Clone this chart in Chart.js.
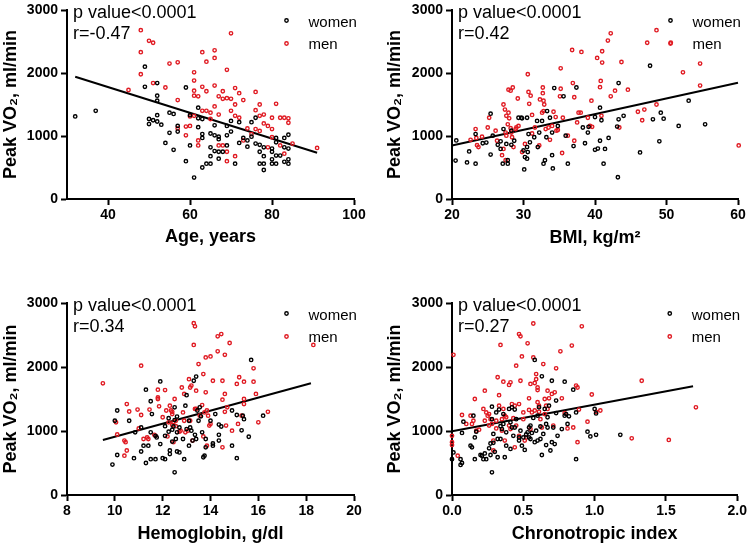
<!DOCTYPE html>
<html>
<head>
<meta charset="utf-8">
<script src="https://cdn.jsdelivr.net/npm/chart.js@4.4.0/dist/chart.umd.min.js"></script>
<style>
  html, body { margin: 0; padding: 0; background: #fff; }
  #wrap { position: relative; width: 750px; height: 545px; background: #fff; }
  canvas { position: absolute; }
</style>
</head>
<body>
<div id="wrap">
  <canvas id="c1" width="375" height="272" style="left:0;top:0"></canvas>
  <canvas id="c2" width="375" height="272" style="left:375px;top:0"></canvas>
  <canvas id="c3" width="375" height="273" style="left:0;top:272px"></canvas>
  <canvas id="c4" width="375" height="273" style="left:375px;top:272px"></canvas>
</div>
<script>
// ---------- DATA ----------
const seriesLabels = ["women", "men"];
const yTicks = [0, 1000, 2000, 3000];
const yTickLabels = ["0", "1000", "2000", "3000"];
const yTitle = "Peak VO\u2082, ml/min";

// Panel 1: Age
const ageTicks = [40, 60, 80, 100];
const ageTickLabels = ["40", "60", "80", "100"];
const ageText = ["p value<0.0001", "r=-0.47"];
const ageWomen = [[32,1310],[37,1400],[49,2100],[49,1780],[52,1840],[52,1640],[52,1560],[52,1330],[50,1270],[50,1190],[51,1250],[52,1230],[53,1180],[55,1370],[56,1350],[55,1050],[54,890],[56,780],[57,1160],[57,1070],[59,1770],[60,1330],[59,600],[60,850],[61,340],[62,1450],[62,1280],[62,1140],[63,1270],[63,1030],[63,970],[63,500],[64,560],[65,560],[65,1040],[65,820],[65,680],[66,1010],[66,1170],[66,760],[67,950],[67,990],[67,640],[67,750],[68,750],[69,850],[69,1010],[69,1160],[70,1070],[70,1240],[71,560],[72,1220],[72,890],[73,970],[74,830],[74,930],[75,990],[75,1220],[76,1290],[76,880],[77,750],[77,560],[77,860],[78,680],[78,560],[78,460],[78,820],[80,750],[80,630],[80,560],[80,800],[81,970],[81,900],[81,690],[81,560],[82,690],[83,820],[83,590],[83,970],[84,1020],[84,800],[84,630],[84,560]];
const ageMen = [[48,2680],[48,2330],[48,1980],[50,2510],[51,2480],[51,1840],[45,1730],[54,1770],[55,2150],[57,2170],[57,1570],[57,1120],[59,1150],[59,1010],[60,1160],[61,2010],[61,1880],[61,1720],[61,1640],[62,1630],[61,1320],[62,930],[62,850],[63,2330],[63,1780],[64,2180],[64,1710],[65,1370],[66,2360],[66,2240],[66,1800],[66,1470],[67,1630],[68,1710],[68,1590],[69,2050],[69,1600],[70,2630],[70,1590],[67,850],[68,850],[69,750],[69,600],[71,1760],[72,1680],[71,1500],[73,1570],[72,1290],[74,1120],[71,680],[76,1700],[76,1410],[77,1500],[77,1320],[78,1340],[78,1200],[79,1160],[77,1080],[80,1290],[81,1510],[80,1110],[82,1290],[83,1290],[84,1280],[84,1210],[82,850],[83,720],[85,880],[91,810],[73,930],[75,1030],[76,1110],[65,1270],[64,1400],[67,1340],[70,1400],[71,1320],[63,1400],[60,1310],[80,980],[79,820]];
const ageFit = [[32,1940],[91,735]];

// Panel 2: BMI
const bmiTicks = [20, 30, 40, 50, 60];
const bmiTickLabels = ["20", "30", "40", "50", "60"];
const bmiText = ["p value<0.0001", "r=0.42"];
const bmiWomen = [[20.6,930],[20.5,610],[22.1,580],[22.4,755],[23.3,560],[23.3,1030],[24.3,885],[24.8,895],[25.4,1355],[25.4,705],[25.7,1005],[26.4,860],[26.8,915],[26.8,795],[27.1,560],[27.2,1110],[27.6,875],[27.8,615],[27.8,560],[28.3,1085],[28.3,860],[28.7,925],[29.3,1290],[29.8,1280],[30.0,770],[30.2,665],[30.1,470],[30.5,825],[30.6,745],[30.5,640],[30.7,1030],[30.9,900],[31.5,980],[31.9,1240],[32.0,825],[32.2,1055],[32.6,1240],[32.8,560],[33.0,615],[33.2,980],[33.3,1395],[33.7,1290],[34.0,1055],[34.0,695],[34.1,485],[34.3,1760],[34.8,1160],[35.6,1630],[35.9,1005],[36.2,560],[37.4,1770],[37.0,840],[38.3,1135],[38.6,885],[39.0,1055],[39.1,1145],[40.0,1300],[40.0,780],[40.4,800],[40.7,1450],[40.7,925],[40.9,1250],[41.2,560],[41.4,795],[41.9,970],[43.3,1840],[43.2,345],[43.3,1265],[43.1,1150],[44.0,1320],[46.3,740],[48.1,1265],[47.7,2115],[49.0,915],[49.2,1370],[49.6,1275],[51.7,1160],[53.1,1560],[55.4,1185],[30.5,1290],[29.7,1290]];
const bmiMen = [[23.3,1110],[22.6,940],[23.4,970],[23.5,855],[23.7,825],[24.2,990],[25.0,1135],[25.2,1290],[26.1,1085],[26.3,925],[27.2,1500],[27.4,1420],[27.6,1320],[27.2,795],[27.0,695],[27.5,615],[27.5,1055],[27.6,1005],[27.8,1185],[27.9,1735],[28.2,1720],[28.5,1770],[27.9,1370],[28.0,1280],[28.2,1125],[28.3,1055],[28.4,980],[28.6,825],[28.9,1110],[29.2,1595],[29.0,1135],[29.3,1160],[30.6,1980],[30.7,1700],[31.0,1640],[30.8,1510],[31.2,1335],[31.6,1135],[31.2,1040],[30.2,875],[29.8,745],[32.3,1580],[32.6,1370],[32.7,1770],[32.7,1680],[32.8,1560],[32.9,1500],[32.8,1395],[33.1,1110],[32.2,850],[33.5,1135],[34.0,1160],[33.7,940],[34.2,1385],[34.5,1300],[34.6,1085],[34.8,1095],[35.1,1630],[35.2,2075],[35.2,1750],[35.4,730],[35.5,1290],[36.2,1005],[36.8,2365],[36.9,1840],[37.1,1615],[37.1,925],[37.5,1215],[37.7,1370],[38.1,2335],[38.0,1370],[39.5,1560],[39.0,1290],[39.3,1160],[39.6,1145],[40.3,2240],[40.8,1875],[40.7,1775],[40.9,1320],[41.0,2345],[41.0,2165],[41.8,2515],[42.2,2630],[42.2,1630],[42.8,1720],[43.4,1135],[43.7,2175],[44.6,1735],[46.0,1385],[46.6,1250],[46.9,1420],[47.3,2480],[48.6,1500],[48.6,2680],[50.6,2480],[52.3,2010],[54.7,2150],[54.7,1800],[60.1,850]];
const bmiFit = [[20,850],[60,1845]];

// Panel 3: Hemoglobin
const hbTicks = [8, 10, 12, 14, 16, 18, 20];
const hbTickLabels = ["8", "10", "12", "14", "16", "18", "20"];
const hbText = ["p value<0.0001", "r=0.34"];
const hbWomen = [[9.9,475],[10.1,625],[10.1,1320],[10.0,1160],[10.6,1160],[10.8,575],[10.85,980],[11.1,680],[11.1,1055],[11.3,500],[11.3,1645],[11.2,770],[11.4,770],[11.5,560],[11.5,1465],[11.55,1265],[11.5,980],[11.7,560],[11.7,925],[11.75,900],[11.9,1775],[11.9,795],[12.0,575],[12.1,925],[12.1,1075],[12.1,560],[12.25,990],[12.25,1200],[12.3,695],[12.3,640],[12.4,835],[12.4,1020],[12.45,1070],[12.5,1170],[12.5,355],[12.5,1370],[12.6,1225],[12.6,980],[12.55,875],[12.6,680],[12.7,665],[12.7,1055],[12.85,875],[12.9,560],[12.95,1395],[13.0,1560],[13.0,1030],[13.1,770],[13.1,1160],[13.15,1055],[13.2,1005],[13.25,850],[13.3,1785],[13.35,940],[13.4,1850],[13.4,875],[13.45,1320],[13.5,1160],[13.55,1370],[13.6,1230],[13.65,980],[13.7,590],[13.75,615],[13.8,875],[13.8,745],[14.0,1160],[14.1,805],[14.1,770],[14.2,1265],[14.35,850],[14.35,940],[14.35,1100],[14.45,1070],[14.9,770],[14.9,1320],[15.1,1250],[15.1,575],[15.3,1010],[15.35,1240],[15.4,1185],[15.6,910],[15.7,2110],[16.2,1240]];
const hbMen = [[9.5,1745],[10.05,1135],[10.1,945],[10.4,850],[10.4,615],[10.5,695],[10.5,1420],[10.45,825],[10.6,1305],[10.95,1335],[11.0,1040],[11.1,2020],[11.1,1250],[11.2,875],[11.35,900],[11.4,875],[11.45,1335],[11.65,940],[11.7,925],[11.8,1645],[11.8,1525],[11.8,1500],[11.85,1385],[12.0,1215],[12.1,1640],[12.15,1320],[12.2,915],[12.25,1135],[12.3,1395],[12.35,1320],[12.4,1265],[12.4,1095],[12.4,1300],[12.45,1135],[12.45,825],[12.5,1500],[12.55,1160],[12.55,1075],[12.7,990],[12.75,1005],[12.8,1680],[12.85,1290],[12.9,1160],[12.9,1580],[12.95,980],[13.05,1005],[13.1,1810],[13.15,1160],[13.15,1680],[13.2,1710],[13.25,850],[13.3,2345],[13.3,2685],[13.35,2635],[13.35,1345],[13.4,1630],[13.4,1345],[13.5,2045],[13.55,1240],[13.65,1405],[13.7,1890],[13.7,915],[13.75,1290],[13.8,2150],[13.8,1605],[13.85,770],[13.85,1320],[13.9,1240],[13.95,1085],[14.0,2165],[14.0,1110],[14.1,1785],[14.3,2480],[14.3,2245],[14.45,2515],[14.5,1785],[14.5,1490],[14.5,745],[14.6,2190],[14.6,1580],[14.6,1300],[14.65,1085],[14.7,1370],[14.8,2375],[14.9,1005],[15.1,1735],[15.2,1840],[15.15,1110],[15.3,1240],[15.4,1770],[15.4,1500],[15.4,1420],[15.8,1980],[15.8,1770],[15.9,1580],[16.0,1135],[16.4,1300],[18.3,2345]];
const hbFit = [[9.5,860],[18.2,1745]];

// Panel 4: Chronotropic index
const ciTicks = [0, 0.5, 1, 1.5, 2];
const ciTickLabels = ["0.0", "0.5", "1.0", "1.5", "2.0"];
const ciText = ["p value<0.0001", "r=0.27"];
const ciWomen = [[0,560],[0.01,665],[0.06,560],[0.06,470],[0.07,500],[0.08,1145],[0.07,970],[0.13,770],[0.14,745],[0.15,1240],[0.16,560],[0.16,900],[0.17,990],[0.2,625],[0.21,615],[0.22,560],[0.23,650],[0.24,560],[0.26,730],[0.27,625],[0.27,805],[0.28,1380],[0.28,355],[0.28,1185],[0.29,955],[0.29,815],[0.3,675],[0.31,1290],[0.32,875],[0.32,590],[0.33,1335],[0.34,1075],[0.34,875],[0.35,1030],[0.36,1110],[0.36,1265],[0.37,590],[0.38,770],[0.38,980],[0.4,1345],[0.41,1135],[0.41,720],[0.42,1370],[0.42,1055],[0.43,925],[0.44,1335],[0.44,1055],[0.45,1185],[0.47,900],[0.47,850],[0.48,1005],[0.49,770],[0.5,900],[0.51,705],[0.52,945],[0.53,980],[0.54,1055],[0.54,900],[0.55,875],[0.55,1085],[0.56,970],[0.57,1205],[0.58,2110],[0.58,825],[0.59,1005],[0.6,1240],[0.6,850],[0.61,1370],[0.62,1070],[0.62,875],[0.63,1855],[0.63,625],[0.64,955],[0.65,1345],[0.66,780],[0.66,1110],[0.67,1055],[0.67,1215],[0.68,1395],[0.69,695],[0.7,1785],[0.7,825],[0.71,1055],[0.72,795],[0.73,1475],[0.73,1280],[0.74,925],[0.77,1030],[0.79,1240],[0.79,1770],[0.8,1265],[0.81,1110],[0.82,1230],[0.85,1645],[0.87,560],[0.87,1290],[0.95,990],[0.97,915],[1.0,1345],[1.01,1275],[1.01,940],[1.18,940]];
const ciMen = [[0,925],[0,825],[0,780],[0.01,2190],[0.04,615],[0.07,1250],[0.1,1110],[0.13,1240],[0.14,1110],[0.15,1160],[0.16,1500],[0.17,1005],[0.19,1020],[0.22,1345],[0.23,1630],[0.23,1160],[0.24,1290],[0.25,1240],[0.26,1085],[0.26,1265],[0.27,1185],[0.28,1110],[0.29,850],[0.29,695],[0.31,1040],[0.31,1160],[0.32,1840],[0.33,1560],[0.33,1395],[0.34,2345],[0.35,1185],[0.35,1005],[0.36,1770],[0.36,1345],[0.37,850],[0.37,1240],[0.38,1215],[0.4,1085],[0.4,1720],[0.41,1760],[0.41,1030],[0.42,1420],[0.43,1200],[0.44,745],[0.44,1395],[0.45,2020],[0.45,1085],[0.47,2515],[0.47,925],[0.47,1420],[0.48,2480],[0.48,1785],[0.49,2165],[0.5,1290],[0.5,1185],[0.51,850],[0.52,900],[0.53,2370],[0.54,1510],[0.54,1330],[0.55,1030],[0.55,1735],[0.56,1290],[0.57,2680],[0.57,2150],[0.58,1320],[0.58,1750],[0.59,1810],[0.59,1890],[0.6,1450],[0.6,1680],[0.6,1640],[0.61,1395],[0.61,1300],[0.62,1185],[0.63,1055],[0.64,2045],[0.65,1500],[0.65,1265],[0.66,1395],[0.67,1630],[0.67,1345],[0.68,1510],[0.7,1580],[0.71,1085],[0.72,1605],[0.73,1980],[0.76,2245],[0.77,1510],[0.79,1280],[0.81,1040],[0.84,2335],[0.85,1055],[0.87,1710],[0.88,1680],[0.88,825],[0.89,1335],[0.91,2635],[0.98,1570],[0.95,1145],[1.01,1300],[1.04,1320],[1.26,885],[1.33,1785],[1.52,860],[1.71,1370]];
const ciFit = [[0,995],[1.69,1700]];

// ---------- STYLE ----------
const FONT = "'Liberation Sans', Arial, Helvetica, sans-serif";
const BLACK = "#000000";
const RED = "#e01a22";
const seriesColors = [BLACK, RED];

const annotPlugin = {
  id: "annot",
  afterDatasetsDraw(chart, args, opts) {
    const ctx = chart.ctx, a = chart.chartArea;
    ctx.save();
    ctx.fillStyle = BLACK;
    ctx.textAlign = "left";
    ctx.textBaseline = "alphabetic";
    ctx.font = "18px " + FONT;
    opts.lines.forEach((t, i) => ctx.fillText(t, a.left + 6, a.top + 8 + i * 21));
    // legend
    ctx.font = "15px " + FONT;
    chart.data.datasets.forEach((ds, i) => {
      if (!ds.isSeries) return;
      const my = a.top + 10.5 + i * 23;
      ctx.beginPath();
      ctx.strokeStyle = ds.borderColor;
      ctx.lineWidth = 1.4;
      ctx.arc(a.right - 67.5, my, 1.7, 0, Math.PI * 2);
      ctx.stroke();
      ctx.fillStyle = BLACK;
      ctx.fillText(ds.label, a.right - 45.5, a.top + 17 + i * 22);
    });
    ctx.restore();
  }
};

function makePanel(id, p) {
  const toXY = arr => arr.map(([x, y]) => ({ x, y }));
  const ptDs = (label, arr, color) => ({
    label, data: toXY(arr), isSeries: true,
    borderColor: color, backgroundColor: "rgba(0,0,0,0)",
    pointRadius: 1.7, pointHoverRadius: 1.7, borderWidth: 1.4, clip: false
  });
  const tickFont = { family: FONT, size: 14, weight: "bold", lineHeight: 1 };
  const titleFont = { family: FONT, size: 18, weight: "bold", lineHeight: 1.2 };
  const gridCfg = { display: true, drawOnChartArea: false, drawTicks: true, tickLength: 6, tickWidth: 2, tickColor: BLACK };
  const borderCfg = { display: true, color: BLACK, width: 2 };
  new Chart(document.getElementById(id), {
    type: "scatter",
    data: {
      datasets: [
        ptDs(seriesLabels[0], p.women, seriesColors[0]),
        ptDs(seriesLabels[1], p.men, seriesColors[1]),
        { type: "line", label: "fit", data: toXY(p.fit), borderColor: BLACK, borderWidth: 2,
          pointRadius: 0, fill: false, showLine: true, clip: false }
      ]
    },
    options: {
      responsive: false, animation: false, devicePixelRatio: 1,
      events: [],
      layout: { padding: { top: p.padTop, right: p.padRight, bottom: 0, left: 0 } },
      plugins: { legend: { display: false }, tooltip: { enabled: false }, annot: { lines: p.text } },
      scales: {
        x: {
          type: "linear", min: p.xMin, max: p.xMax,
          afterBuildTicks: s => { s.ticks = p.xTicks.map(v => ({ value: v })); },
          ticks: { font: tickFont, color: BLACK, padding: 3, maxRotation: 0, autoSkip: false,
                   callback: v => p.xTickLabels[p.xTicks.indexOf(v)] },
          grid: gridCfg, border: borderCfg,
          title: { display: true, text: p.xTitle, font: titleFont, color: BLACK, padding: { top: 0, bottom: p.xTitlePad } },
          afterFit: s => { s.height = p.xHeight; }
        },
        y: {
          type: "linear", min: 0, max: 3000,
          afterBuildTicks: s => { s.ticks = yTicks.map(v => ({ value: v })); },
          ticks: { font: tickFont, color: BLACK, padding: 3, autoSkip: false,
                   callback: v => yTickLabels[yTicks.indexOf(v)] },
          grid: gridCfg, border: borderCfg,
          title: { display: true, text: yTitle, font: titleFont, color: BLACK, padding: { top: p.yTitlePad, bottom: 0 } },
          afterFit: s => { s.width = p.yWidth; }
        }
      }
    },
    plugins: [annotPlugin]
  });
}

makePanel("c1", { women: ageWomen, men: ageMen, fit: ageFit, xMin: 30, xMax: 100, xTicks: ageTicks, xTickLabels: ageTickLabels,
  xTitle: "Age, years", text: ageText, padTop: 7, padRight: 21, yWidth: 67, xHeight: 73, xTitlePad: 24, yTitlePad: 0 });
makePanel("c2", { women: bmiWomen, men: bmiMen, fit: bmiFit, xMin: 20, xMax: 60, xTicks: bmiTicks, xTickLabels: bmiTickLabels,
  xTitle: "BMI, kg/m\u00B2", text: bmiText, padTop: 7, padRight: 12, yWidth: 77, xHeight: 73, xTitlePad: 23, yTitlePad: 9 });
makePanel("c3", { women: hbWomen, men: hbMen, fit: hbFit, xMin: 8, xMax: 20, xTicks: hbTicks, xTickLabels: hbTickLabels,
  xTitle: "Hemoglobin, g/dl", text: hbText, padTop: 31, padRight: 21, yWidth: 67, xHeight: 50, xTitlePad: 0, yTitlePad: 0 });
makePanel("c4", { women: ciWomen, men: ciMen, fit: ciFit, xMin: 0, xMax: 2, xTicks: ciTicks, xTickLabels: ciTickLabels,
  xTitle: "Chronotropic index", text: ciText, padTop: 31, padRight: 12, yWidth: 77, xHeight: 50, xTitlePad: 0, yTitlePad: 9 });
</script>
</body>
</html>
